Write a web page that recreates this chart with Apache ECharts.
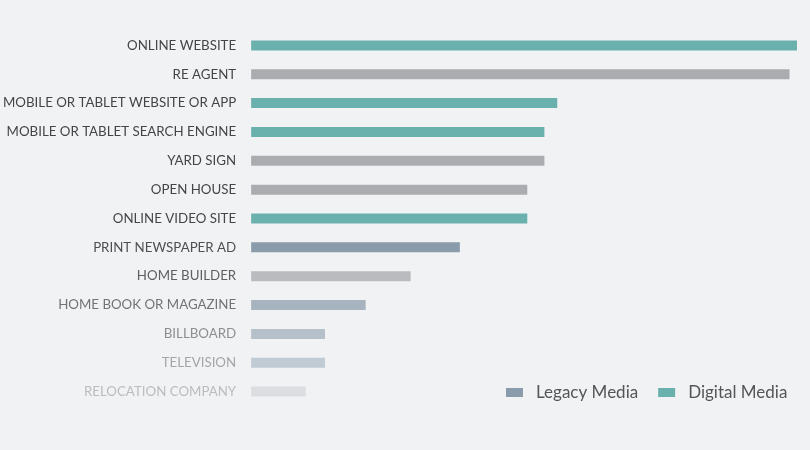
<!DOCTYPE html>
<html>
<head>
<meta charset="utf-8">
<script src="https://cdn.jsdelivr.net/npm/echarts@6/dist/echarts.min.js"></script>
<style>
  html, body { margin: 0; padding: 0; background: #f1f2f4; }
  #chart { width: 810px; height: 450px; }
</style>
</head>
<body>
<div id="chart"></div>
<script>
  // categories, top to bottom
  var categories = [
    'ONLINE WEBSITE', 'RE AGENT', 'MOBILE OR TABLET WEBSITE OR APP',
    'MOBILE OR TABLET SEARCH ENGINE', 'YARD SIGN', 'OPEN HOUSE',
    'ONLINE VIDEO SITE', 'PRINT NEWSPAPER AD', 'HOME BUILDER',
    'HOME BOOK OR MAGAZINE', 'BILLBOARD', 'TELEVISION', 'RELOCATION COMPANY'
  ];
  var values = [51, 50.3, 28.6, 27.4, 27.4, 25.8, 25.8, 19.5, 14.9, 10.7, 6.9, 6.9, 5.1];
  // which group each category belongs to
  var mediaType = ['digital', 'legacy', 'digital', 'digital', 'legacy', 'legacy',
    'digital', 'legacy', 'legacy', 'legacy', 'legacy', 'legacy', 'legacy'];

  // styling
  var teal = '#6ab1ad';
  var legacyColor = '#8a9bab';
  var barColors = ['#6ab1ad', '#aaacaf', '#6ab1ad', '#6ab1ad', '#aaacaf', '#aaacaf',
    '#6ab1ad', '#8a9bab', '#b9bbbe', '#a7b3be', '#b5c0ca', '#c0cbd3', '#dcdde0'];
  var labelColors = ['#454545', '#454545', '#454545', '#454545', '#454545', '#454545',
    '#454545', '#4f4f4f', '#606060', '#737373', '#8e8e8e', '#a5a5a5', '#bcbcbc'];

  var yData = categories.map(function (c, i) {
    return { value: c, textStyle: { color: labelColors[i] } };
  });

  function seriesData (type) {
    return values.map(function (v, i) {
      if (mediaType[i] !== type) return '-';
      return { value: v, itemStyle: { color: barColors[i] } };
    });
  }

  var myChart = echarts.init(document.getElementById('chart'));
  var option = {
    backgroundColor: '#f1f2f4',
    animation: false,
    grid: { left: 251, right: 13, top: 31, height: 375 },
    legend: {
      data: ['Legacy Media', 'Digital Media'],
      left: 506,
      top: 384,
      padding: 0,
      itemWidth: 17,
      itemHeight: 9,
      itemGap: 20,
      icon: 'rect',
      textStyle: { fontFamily: 'Lato', fontSize: 17, color: '#555', padding: [0, 0, 0, 8] }
    },
    xAxis: {
      type: 'value', min: 0, max: 51, show: false
    },
    yAxis: {
      type: 'category',
      inverse: true,
      data: yData,
      axisLine: { show: false },
      axisTick: { show: false },
      axisLabel: { margin: 15, fontFamily: 'Lato', fontSize: 13.3 }
    },
    series: [
      {
        name: 'Legacy Media', type: 'bar', stack: 'all', barWidth: 10,
        itemStyle: { color: legacyColor },
        data: seriesData('legacy')
      },
      {
        name: 'Digital Media', type: 'bar', stack: 'all', barWidth: 10,
        itemStyle: { color: teal },
        data: seriesData('digital')
      }
    ]
  };
  myChart.setOption(option);
</script>
</body>
</html>
